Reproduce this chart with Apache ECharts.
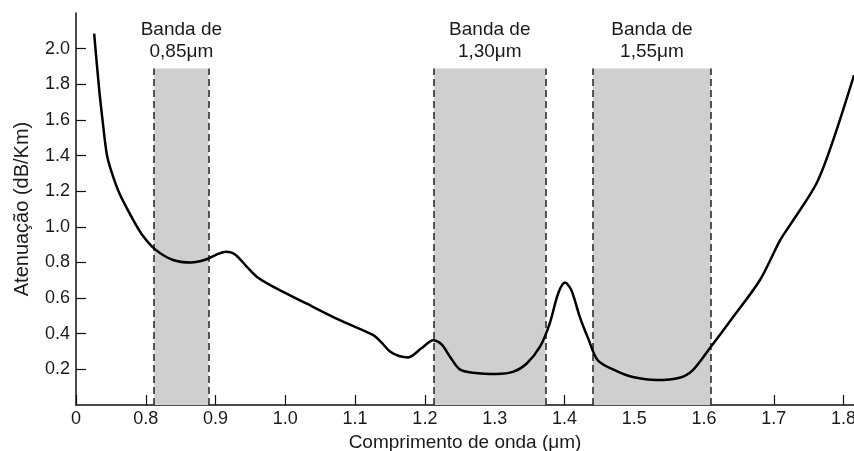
<!DOCTYPE html>
<html>
<head>
<meta charset="utf-8">
<script src="https://cdn.jsdelivr.net/npm/echarts@6/dist/echarts.min.js"></script>
<style>
	html, body { margin: 0; padding: 0; background: #fff; }
	#main { width: 854px; height: 451px; }
</style>
</head>
<body>
<div id="main"></div>
<script>
// comprimento de onda (um) e atenuacao (dB/Km)
var wavelength = [0.726, 0.733, 0.738, 0.744, 0.750, 0.762, 0.779, 0.794, 0.813, 0.839, 0.865, 0.885, 0.902, 0.915, 0.928, 0.945, 0.959, 0.983, 1.030, 1.078, 1.126, 1.138, 1.150, 1.163, 1.176, 1.195, 1.212, 1.224, 1.236, 1.250, 1.269, 1.303, 1.327, 1.346, 1.365, 1.379, 1.391, 1.401, 1.410, 1.422, 1.434, 1.448, 1.475, 1.498, 1.532, 1.565, 1.584, 1.608, 1.642, 1.680, 1.709, 1.723, 1.761, 1.785, 1.815];
var attenuation = [2.084, 1.78, 1.60, 1.41, 1.32, 1.19, 1.06, 0.96, 0.875, 0.814, 0.80, 0.815, 0.845, 0.86, 0.845, 0.775, 0.72, 0.663, 0.570, 0.476, 0.392, 0.35, 0.30, 0.275, 0.267, 0.318, 0.364, 0.34, 0.271, 0.20, 0.181, 0.174, 0.187, 0.233, 0.327, 0.458, 0.626, 0.687, 0.644, 0.495, 0.374, 0.25, 0.19, 0.157, 0.140, 0.153, 0.196, 0.317, 0.495, 0.700, 0.924, 1.008, 1.242, 1.485, 1.85];

// bandas de transmissao
var bandStart = [0.812, 1.213, 1.441];
var bandEnd = [0.890, 1.373, 1.610];
var bandTop = 1.888;
var bandLabels = ['Banda de\n0,85μm', 'Banda de\n1,30μm', 'Banda de\n1,55μm'];

// marcas do eixo y (sem o 0 e sem o topo 2.2)
var yTicks = [0.2, 0.4, 0.6, 0.8, 1.0, 1.2, 1.4, 1.6, 1.8, 2.0];

var textColor = '#1a1a1a';
var fontFamily = '"Liberation Sans", Arial, sans-serif';

var myChart = echarts.init(document.getElementById('main'));

var curve = wavelength.map(function (x, i) { return [x, attenuation[i]]; });

var areas = [];
var lines = [];
for (var i = 0; i < bandStart.length; i++) {
	areas.push([
		{ coord: [bandStart[i], bandTop], name: bandLabels[i] },
		{ coord: [bandEnd[i], 0] }
	]);
	lines.push([{ coord: [bandStart[i], 0] }, { coord: [bandStart[i], bandTop] }]);
	lines.push([{ coord: [bandEnd[i], 0] }, { coord: [bandEnd[i], bandTop] }]);
}

var option = {
	backgroundColor: '#fff',
	animation: false,
	grid: {
		left: 76,
		right: 0,
		top: 13,
		bottom: 46,
		outerBoundsMode: 'none' // nao encolher o grid por causa do rotulo 1.8
	},
	xAxis: {
		type: 'value',
		min: 0.7,
		max: 1.815,
		interval: 0.1,
		name: 'Comprimento de onda (μm)',
		nameLocation: 'middle',
		nameGap: 25,
		nameTextStyle: { fontSize: 19, color: textColor, fontFamily: fontFamily },
		splitLine: { show: false },
		axisLine: { lineStyle: { color: '#111', width: 1.5 } },
		axisTick: { inside: true, length: 10, lineStyle: { color: '#111', width: 1.2 } },
		axisLabel: {
			fontSize: 18,
			color: textColor,
			fontFamily: fontFamily,
			margin: 5,
			formatter: function (v) {
				if (Math.abs(v - 0.7) < 1e-6) return '0'; // eixo interrompido
				return v.toFixed(1);
			}
		}
	},
	yAxis: {
		type: 'value',
		min: 0,
		max: 2.2,
		interval: 0.2,
		name: 'Atenuação (dB/Km)',
		nameLocation: 'middle',
		nameGap: 44,
		nameTextStyle: { fontSize: 20, color: textColor, fontFamily: fontFamily },
		splitLine: { show: false },
		axisLine: { show: true, lineStyle: { color: '#111', width: 1.5 } },
		axisTick: { inside: true, length: 10, customValues: yTicks, lineStyle: { color: '#111', width: 1.2 } },
		axisLabel: {
			fontSize: 18,
			color: textColor,
			fontFamily: fontFamily,
			margin: 6,
			customValues: yTicks,
			formatter: function (v) {
				return v.toFixed(1);
			}
		}
	},
	series: [
		{
			type: 'line',
			data: curve,
			smooth: 0.3,
			showSymbol: false,
			z: 5,
			lineStyle: { color: '#000', width: 2.5 },
			markArea: {
				silent: true,
				itemStyle: { color: '#cfcfcf' },
				label: {
					show: true,
					position: 'top',
					distance: 6,
					fontSize: 19,
					lineHeight: 22,
					align: 'center',
					color: textColor,
					fontFamily: fontFamily
				},
				data: areas
			},
			markLine: {
				silent: true,
				symbol: 'none',
				label: { show: false },
				lineStyle: { color: '#222', type: [7, 4], width: 1.5 },
				data: lines
			}
		}
	]
};
myChart.setOption(option);
</script>
</body>
</html>
